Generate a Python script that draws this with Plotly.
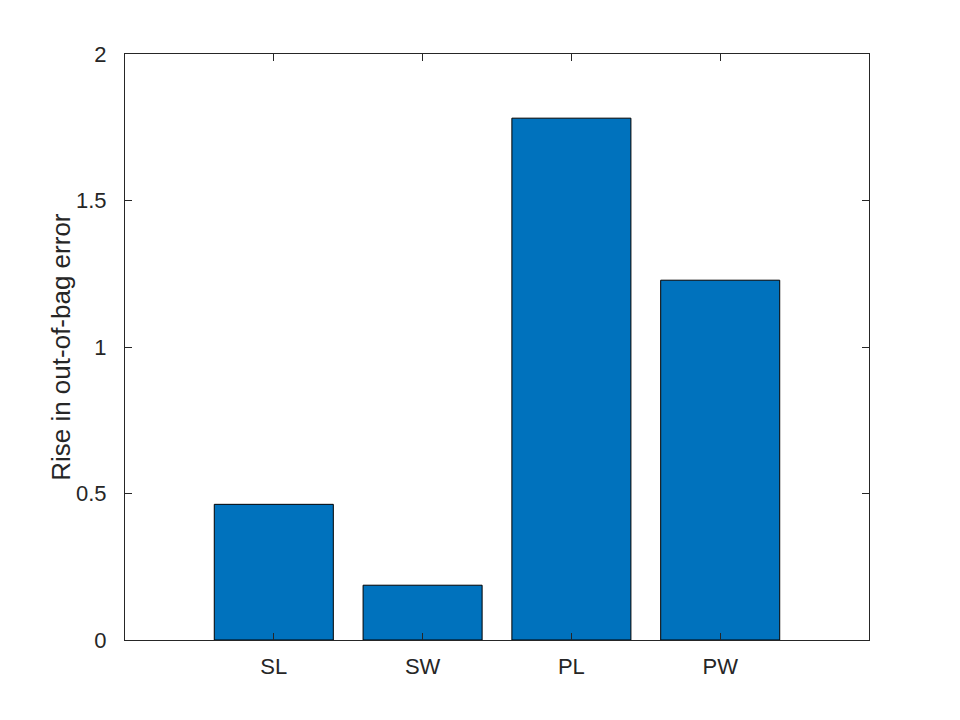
import plotly.graph_objects as go

categories = ["SL", "SW", "PL", "PW"]
values = [0.463, 0.187, 1.781, 1.228]
y_ticks = [0, 0.5, 1, 1.5, 2]
y_tick_labels = ["0", "0.5", "1", "1.5", "2"]
y_title = "Rise in out-of-bag error"

axis_color = "#262626"
font_family = "Liberation Sans, Arial, Helvetica, sans-serif"

fig = go.Figure()
fig.add_trace(go.Bar(
    x=categories,
    y=values,
    width=0.8,
    marker=dict(color="#0072BD", line=dict(color="#000000", width=1)),
    showlegend=False,
))

fig.update_layout(
    width=960, height=720,
    margin=dict(l=117, r=99, t=46, b=88),
    plot_bgcolor="white",
    paper_bgcolor="white",
    font=dict(family=font_family, size=22, color=axis_color),
    bargap=0.2,
)
fig.update_xaxes(
    type="category",
    range=[-1, 4],
    showline=True, linecolor=axis_color, linewidth=1,
    mirror="ticks",
    ticks="inside", ticklen=7, tickwidth=1, tickcolor=axis_color,
    showgrid=False, zeroline=False,
    tickfont=dict(size=22, color=axis_color),
    ticklabelstandoff=7,
)
fig.update_yaxes(
    range=[0, 2],
    tickvals=y_ticks, ticktext=y_tick_labels,
    showline=True, linecolor=axis_color, linewidth=1,
    mirror="ticks",
    ticks="inside", ticklen=7, tickwidth=1, tickcolor=axis_color,
    showgrid=False, zeroline=False,
    tickfont=dict(size=22, color=axis_color),
    ticklabelstandoff=13,
)
fig.add_annotation(
    text=y_title,
    xref="paper", yref="paper",
    x=(61 - 125) / 743.7, y=(640 - 347) / 585.7,
    xanchor="center", yanchor="middle",
    textangle=-90,
    showarrow=False,
    font=dict(size=26, color=axis_color, family=font_family),
)

fig.write_html("out.html")
